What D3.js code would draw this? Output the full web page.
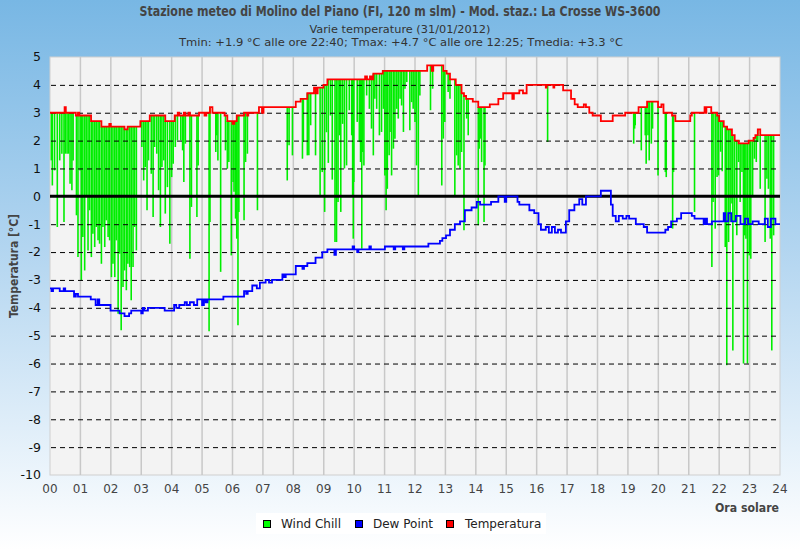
<!DOCTYPE html>
<html><head><meta charset="utf-8">
<script src="https://cdn.jsdelivr.net/npm/d3@7"></script>
<style>
html,body{margin:0;padding:0;}
body{width:800px;height:550px;overflow:hidden;}
</style></head>
<body>
<svg id="chart" width="800" height="550"></svg>
<script>
// ---------- data ----------
const titleText = "Stazione meteo di Molino del Piano (FI, 120 m slm) - Mod. staz.: La Crosse WS-3600";
const subtitle1 = "Varie temperature (31/01/2012)";
const subtitle2 = "Tmin: +1.9 °C alle ore 22:40; Tmax: +4.7 °C alle ore 12:25; Tmedia: +3.3 °C";
const hourLabels = ["00","01","02","03","04","05","06","07","08","09","10","11","12","13","14","15","16","17","18","19","20","21","22","23","24"];
const yTicks = [5,4,3,2,1,0,-1,-2,-3,-4,-5,-6,-7,-8,-9,-10];
const legendItems = ["Wind Chill","Dew Point","Temperatura"];

// temperature step changes [hour, °C]
const temperatura = [[0,3.0],[0.48,3.2],[0.52,3.0],[0.85,2.9],[0.92,3.0],[0.96,2.9],[1.35,2.7],[1.69,2.5],[1.95,2.6],[2.0,2.5],[2.45,2.4],[2.55,2.5],[2.97,2.7],[3.28,2.9],[3.79,2.7],[4.1,2.9],[4.2,3.0],[4.25,2.9],[4.4,3.0],[4.45,2.9],[4.55,3.0],[4.6,2.9],[4.9,3.0],[5.08,2.9],[5.14,3.0],[5.26,3.2],[5.34,3.0],[5.74,2.9],[5.83,2.7],[6.0,2.6],[6.06,2.7],[6.14,2.9],[6.38,3.0],[6.48,2.9],[6.52,3.0],[6.87,3.2],[6.97,3.0],[7.02,3.2],[8.08,3.4],[8.24,3.5],[8.46,3.7],[8.68,3.9],[8.74,3.7],[8.8,3.9],[8.99,4.0],[9.12,4.2],[10.36,4.3],[10.42,4.2],[10.52,4.3],[10.58,4.2],[10.63,4.4],[10.94,4.5],[12.40,4.7],[12.55,4.5],[12.6,4.7],[12.93,4.5],[13.04,4.4],[13.15,4.2],[13.34,4.0],[13.53,3.7],[13.61,3.6],[13.68,3.5],[13.90,3.4],[14.08,3.2],[14.46,3.3],[14.74,3.5],[14.90,3.7],[15.2,3.5],[15.25,3.7],[15.43,3.8],[15.55,3.7],[15.67,4.0],[16.3,3.9],[16.33,4.0],[16.55,3.9],[16.58,4.0],[16.87,3.8],[17.13,3.5],[17.25,3.3],[17.35,3.2],[17.55,3.3],[17.62,3.2],[17.73,3.0],[17.84,2.9],[18.11,2.7],[18.50,2.9],[18.91,3.0],[19.35,3.2],[19.63,3.4],[19.99,3.2],[20.1,3.3],[20.17,3.0],[20.45,2.9],[20.56,2.7],[21.05,2.9],[21.10,3.0],[21.52,3.2],[21.55,3.0],[21.58,3.2],[21.74,3.0],[21.93,2.9],[22.00,2.7],[22.15,2.5],[22.26,2.4],[22.42,2.2],[22.51,2.0],[22.64,1.9],[22.97,2.0],[23.13,2.1],[23.19,2.2],[23.27,2.4],[23.35,2.2],[24,2.2]];

// dew point step changes [hour, °C]
const dewPoint = [[0,-3.3],[0.05,-3.4],[0.1,-3.3],[0.32,-3.4],[0.45,-3.3],[0.5,-3.4],[0.79,-3.6],[0.85,-3.5],[0.92,-3.6],[1.34,-3.7],[1.5,-3.9],[1.57,-3.7],[1.62,-3.9],[1.99,-4.1],[2.29,-4.2],[2.45,-4.3],[2.6,-4.2],[2.67,-4.1],[3.0,-4.2],[3.05,-4.0],[3.1,-4.1],[3.22,-4.0],[3.77,-4.1],[4.08,-3.9],[4.15,-4.0],[4.25,-3.9],[4.43,-3.8],[4.5,-3.9],[4.6,-3.8],[4.73,-3.9],[4.84,-3.7],[5.0,-3.9],[5.06,-3.7],[5.12,-3.8],[5.18,-3.7],[5.7,-3.6],[6.38,-3.4],[6.45,-3.5],[6.5,-3.4],[6.65,-3.2],[6.8,-3.3],[6.9,-3.1],[7.09,-3.0],[7.2,-3.1],[7.3,-3.0],[7.64,-2.8],[7.7,-2.9],[7.75,-2.8],[8.08,-2.5],[8.3,-2.6],[8.35,-2.5],[8.46,-2.4],[8.73,-2.2],[8.95,-2.0],[9.12,-1.9],[9.35,-2.1],[9.4,-1.9],[9.95,-1.8],[10.0,-1.9],[10.1,-2.0],[10.14,-1.9],[10.5,-1.8],[10.55,-1.9],[11.01,-1.8],[11.3,-1.9],[11.35,-1.8],[11.6,-1.9],[11.65,-1.8],[12.44,-1.7],[12.82,-1.6],[12.9,-1.5],[13.02,-1.4],[13.15,-1.2],[13.31,-1.0],[13.48,-0.9],[13.64,-0.5],[13.86,-0.4],[14.03,-0.2],[14.14,-0.3],[14.50,-0.2],[14.74,0.0],[14.95,-0.2],[15.0,0.0],[15.37,-0.2],[15.43,-0.3],[15.76,-0.5],[15.92,-0.6],[16.06,-1.0],[16.14,-1.2],[16.3,-1.1],[16.4,-1.3],[16.5,-1.1],[16.6,-1.3],[16.7,-1.2],[16.8,-1.3],[16.96,-0.9],[17.07,-0.5],[17.24,-0.3],[17.40,-0.1],[17.5,-0.3],[17.62,0.0],[18.11,0.2],[18.44,-0.3],[18.50,-0.7],[18.6,-0.9],[18.7,-0.7],[18.83,-0.8],[18.95,-0.7],[19.04,-0.8],[19.26,-1.0],[19.52,-1.1],[19.63,-1.3],[20.23,-1.2],[20.32,-1.1],[20.42,-0.9],[20.61,-0.8],[20.75,-0.6],[21.10,-0.7],[21.19,-0.8],[21.49,-1.0],[21.55,-0.8],[21.6,-1.0],[21.76,-0.9],[22.15,-0.6],[22.2,-0.9],[22.3,-0.6],[22.4,-0.9],[22.55,-0.7],[22.7,-1.0],[22.85,-0.8],[22.95,-1.0],[23.1,-0.9],[23.3,-1.0],[23.5,-0.8],[23.6,-1.1],[23.7,-0.8],[23.85,-1.0],[24,-1.0]];

// wind chill readings below the air temperature [hour, °C]
const windChill = [[0.044,1.29],[0.077,0.39],[0.15,0.93],[0.24,-1.10],[0.32,1.29],[0.39,1.53],[0.46,-0.92],[0.50,1.53],[0.56,1.53],[0.61,1.53],[0.66,0.45],[0.72,0.22],[0.76,1.29],[0.87,-0.68],[0.92,-2.18],[0.99,0.93],[1.03,-3.01],[1.08,-1.46],[1.14,-2.66],[1.19,-0.02],[1.25,-1.94],[1.30,-0.50],[1.36,-2.18],[1.41,-1.34],[1.47,-1.82],[1.52,-1.10],[1.58,-1.58],[1.63,-1.70],[1.69,-2.42],[1.74,-1.10],[1.80,-1.82],[1.85,-0.86],[1.91,-1.46],[1.96,-1.58],[2.02,-2.90],[2.07,-2.42],[2.13,-2.90],[2.18,-1.58],[2.24,-4.21],[2.29,-2.06],[2.34,-4.81],[2.40,-3.25],[2.45,-2.66],[2.51,-3.37],[2.56,-2.42],[2.62,-2.54],[2.67,-3.73],[2.73,-2.54],[2.78,-1.10],[2.84,-1.94],[3.02,1.77],[3.08,0.57],[3.13,1.05],[3.19,-0.50],[3.24,1.29],[3.33,0.81],[3.39,-0.74],[3.44,1.77],[3.51,1.53],[3.57,0.22],[3.63,-1.10],[3.68,1.05],[3.74,1.29],[3.79,-0.62],[3.86,0.33],[3.94,-1.70],[4.00,0.69],[4.05,1.17],[4.12,1.77],[4.19,2.01],[4.30,2.01],[4.36,1.65],[4.40,0.51],[4.45,1.89],[4.60,-2.24],[4.65,-0.38],[4.83,-0.74],[4.87,1.11],[5.23,-4.84],[5.26,-0.92],[5.45,1.59],[5.48,2.19],[5.52,1.29],[5.61,-2.71],[5.77,1.65],[5.83,0.99],[5.88,1.23],[5.96,-2.12],[6.02,0.51],[6.05,0.16],[6.10,-0.80],[6.14,-1.52],[6.18,-4.63],[6.21,-0.56],[6.38,-0.86],[6.43,1.23],[6.49,1.53],[6.82,-0.50],[7.80,0.57],[7.86,1.83],[7.97,1.47],[8.30,1.35],[8.33,1.95],[8.46,1.47],[8.51,1.47],[8.57,2.55],[8.73,1.47],[8.88,0.04],[8.95,0.87],[9.03,-0.56],[9.09,2.3],[9.15,1.2],[9.22,2.9],[9.28,0.6],[9.37,-1.64],[9.42,-1.64],[9.47,-0.20],[9.52,2.19],[9.56,-0.56],[9.62,2.6],[9.68,1.0],[9.75,1.11],[9.84,3.09],[9.92,2.19],[9.95,0.04],[9.97,-1.52],[9.99,0.51],[10.10,2.67],[10.17,1.95],[10.21,1.23],[10.25,-1.88],[10.28,1.59],[10.32,1.11],[10.41,3.62],[10.50,3.14],[10.57,2.43],[10.63,1.47],[10.68,3.50],[10.74,3.14],[10.83,2.19],[10.90,2.31],[10.96,3.14],[11.01,0.75],[11.05,-0.50],[11.09,0.27],[11.15,1.47],[11.18,2.31],[11.23,0.75],[11.29,1.71],[11.34,2.07],[11.40,3.14],[11.45,2.79],[11.51,3.50],[11.56,3.26],[11.62,2.31],[11.67,3.86],[11.73,4.10],[11.83,2.37],[11.89,3.38],[11.94,3.14],[12.00,2.67],[12.05,1.11],[12.11,-0.02],[12.16,3.62],[12.51,3.09],[12.58,3.86],[12.88,0.39],[12.93,2.07],[12.98,2.67],[13.09,3.74],[13.15,3.50],[13.31,0.04],[13.37,1.47],[13.42,1.11],[13.48,0.99],[13.53,1.59],[13.61,-1.22],[13.70,2.79],[13.75,2.19],[14.08,-1.04],[14.11,1.71],[14.16,2.07],[14.19,1.23],[14.27,-0.92],[14.30,1.11],[16.36,1.95],[19.19,1.89],[19.22,2.43],[19.24,2.55],[19.44,1.65],[19.57,2.19],[19.60,1.17],[19.66,2.19],[19.70,1.29],[19.77,1.89],[19.81,2.43],[19.99,0.75],[20.23,0.87],[20.26,0.69],[20.47,-1.16],[20.50,0.87],[21.19,-0.56],[21.76,-2.54],[21.80,-0.20],[21.87,-1.16],[21.93,0.69],[21.98,0.75],[22.05,1.6],[22.10,0.9],[22.20,-1.82],[22.25,-6.06],[22.31,-1.64],[22.36,-0.92],[22.42,-0.26],[22.45,-5.53],[22.51,-0.92],[22.58,-1.40],[22.64,1.23],[22.69,-0.20],[22.75,0.87],[22.80,-6.00],[22.84,-1.40],[22.88,-1.52],[22.93,-6.00],[22.99,-2.12],[23.04,-2.24],[23.10,0.04],[23.16,1.35],[23.22,1.23],[23.27,1.95],[23.35,0.27],[23.51,-1.64],[23.57,0.63],[23.62,0.27],[23.68,-1.52],[23.73,-5.53],[23.79,-1.40]];

// ---------- drawing ----------
const svg = d3.select("#chart");
const W = 800, H = 550;
const m = {left:50, right:780, top:57, bottom:475};

const defs = svg.append("defs");
const grad = defs.append("linearGradient").attr("id","bg").attr("x1",0).attr("y1",0).attr("x2",0).attr("y2",1);
grad.append("stop").attr("offset","0%").attr("stop-color","#78b7e4");
grad.append("stop").attr("offset","45%").attr("stop-color","#b2d5f0");
grad.append("stop").attr("offset","100%").attr("stop-color","#ffffff");
svg.append("rect").attr("width",W).attr("height",H).attr("fill","url(#bg)");

const x = d3.scaleLinear().domain([0,24]).range([m.left, m.right]);
const y = d3.scaleLinear().domain([-10,5]).range([m.bottom, m.top]);

svg.append("rect").attr("x",m.left).attr("y",m.top).attr("width",m.right-m.left).attr("height",m.bottom-m.top)
  .attr("fill","#f3f3f3").attr("stroke","#cfcfcf").attr("stroke-width",1);

// vertical hour grid
svg.append("g").selectAll("line").data(d3.range(1,24)).join("line")
  .attr("x1",d=>x(d)).attr("x2",d=>x(d)).attr("y1",m.top).attr("y2",m.bottom)
  .attr("stroke","#c8c8c8").attr("stroke-width",1.5);

// wind chill spikes
const tBis = d3.bisector(d=>d[0]).right;
function tempAt(h){ const i = tBis(temperatura,h)-1; return temperatura[Math.max(0,i)][1]; }
svg.append("g").selectAll("line").data(windChill).join("line")
  .attr("x1",d=>x(d[0])).attr("x2",d=>x(d[0]))
  .attr("y1",d=>y(tempAt(d[0]))).attr("y2",d=>y(d[1]))
  .attr("stroke","#00ee00").attr("stroke-width",1.6);

// horizontal dashed lines
svg.append("g").selectAll("line").data(yTicks.filter(v=>v!==0 && v!==5 && v!==-10)).join("line")
  .attr("x1",m.left+1).attr("x2",m.right).attr("y1",d=>y(d)+0.5).attr("y2",d=>y(d)+0.5)
  .attr("stroke","#000").attr("stroke-width",1).attr("stroke-dasharray","5,4");
svg.append("line").attr("x1",m.left).attr("x2",m.right).attr("y1",y(0)).attr("y2",y(0))
  .attr("stroke","#000").attr("stroke-width",3);

// lines
const line = d3.line().x(d=>x(d[0])).y(d=>y(d[1])).curve(d3.curveStepAfter);
svg.append("path").datum(dewPoint).attr("d",line).attr("fill","none").attr("stroke","#0000ff").attr("stroke-width",1.8);
svg.append("path").datum(temperatura).attr("d",line).attr("fill","none").attr("stroke","#ff0000").attr("stroke-width",1.8);

// y tick labels
svg.append("g").selectAll("text").data(yTicks).join("text")
  .attr("x",41).attr("y",d=>y(d)).attr("dy","0.35em").attr("text-anchor","end")
  .attr("font-family","DejaVu Sans").attr("font-size",12.5).attr("fill","#111").text(d=>d);

// x tick labels
svg.append("g").selectAll("text").data(hourLabels).join("text")
  .attr("x",(d,i)=>x(i)).attr("y",489).attr("dy","0.35em").attr("text-anchor","middle")
  .attr("font-family","DejaVu Sans").attr("font-size",12).attr("fill","#444").text(d=>d);

// axis titles
svg.append("text").attr("x",779).attr("y",507).attr("dy","0.35em").attr("text-anchor","end")
  .attr("font-family","DejaVu Sans Condensed, DejaVu Sans").attr("font-weight","bold").attr("font-size",13).attr("fill","#444")
  .attr("textLength",64).attr("lengthAdjust","spacingAndGlyphs").text("Ora solare");
svg.append("text").attr("transform","translate(13,266) rotate(-90)").attr("dy","0.35em").attr("text-anchor","middle")
  .attr("font-family","DejaVu Sans Condensed, DejaVu Sans").attr("font-weight","bold").attr("font-size",13).attr("fill","#444")
  .attr("textLength",104).attr("lengthAdjust","spacingAndGlyphs").text("Temperatura [°C]");

// titles
svg.append("text").attr("x",400).attr("y",11).attr("dy","0.35em").attr("text-anchor","middle")
  .attr("font-family","DejaVu Sans Condensed, DejaVu Sans").attr("font-weight","bold").attr("font-size",13.5).attr("fill","#444")
  .attr("textLength",521).attr("lengthAdjust","spacingAndGlyphs").text(titleText);
svg.append("text").attr("x",400).attr("y",29.5).attr("dy","0.35em").attr("text-anchor","middle")
  .attr("font-family","DejaVu Sans Condensed, DejaVu Sans").attr("font-size",11).attr("fill","#333")
  .attr("textLength",181).attr("lengthAdjust","spacingAndGlyphs").text(subtitle1);
svg.append("text").attr("x",401).attr("y",42).attr("dy","0.35em").attr("text-anchor","middle")
  .attr("font-family","DejaVu Sans Condensed, DejaVu Sans").attr("font-size",11).attr("fill","#333")
  .attr("textLength",444).attr("lengthAdjust","spacingAndGlyphs").text(subtitle2);

// legend
const colors = ["#00ff00","#0000ff","#ff0000"];
const lg = svg.append("g");
lg.append("rect").attr("x",256).attr("y",513).attr("width",290).attr("height",21).attr("fill","#ffffff");
const sqX = [263.5,355.5,446.5], txX = [281,373,465];
lg.selectAll("rect.sw").data(legendItems).join("rect").attr("class","sw")
  .attr("x",(d,i)=>sqX[i]).attr("y",520.5).attr("width",7).attr("height",7)
  .attr("fill",(d,i)=>colors[i]).attr("stroke","#000").attr("stroke-width",1);
lg.selectAll("text").data(legendItems).join("text")
  .attr("x",(d,i)=>txX[i]).attr("y",524).attr("dy","0.35em")
  .attr("font-family","DejaVu Sans").attr("font-size",12).attr("fill","#222").text(d=>d);
</script>
</body></html>
